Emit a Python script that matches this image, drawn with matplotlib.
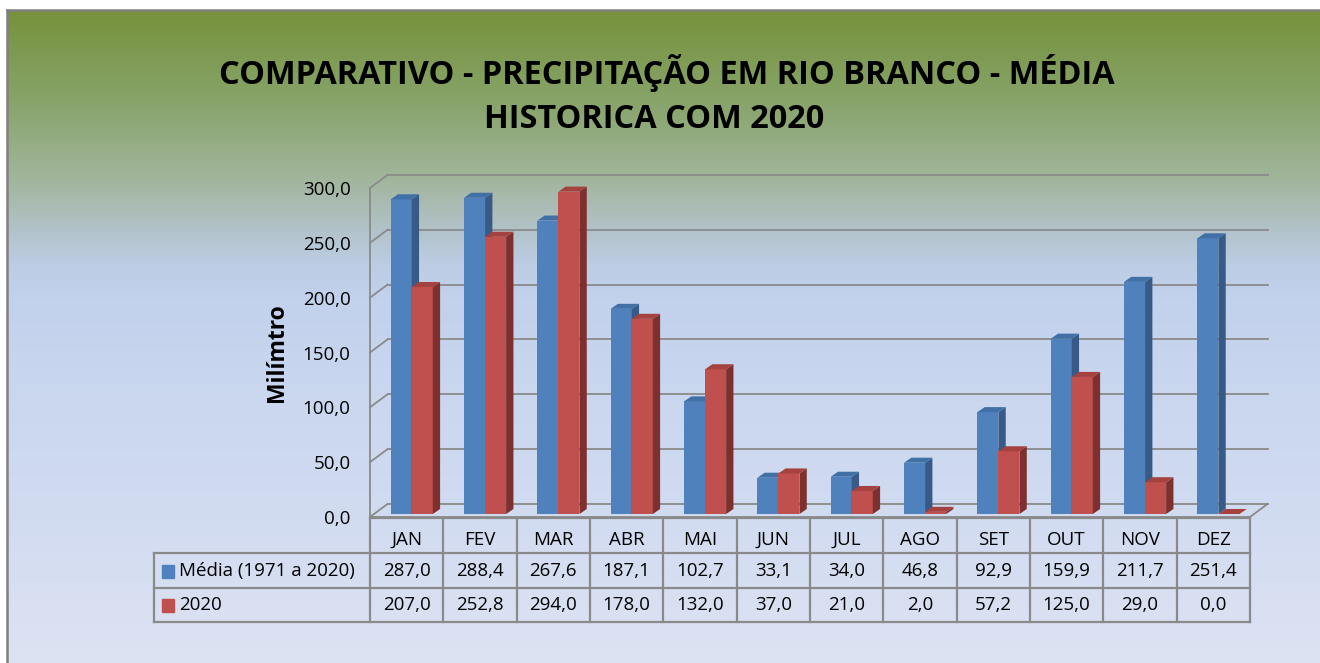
import numpy as np
import matplotlib
matplotlib.use("Agg")
import matplotlib.pyplot as plt
from matplotlib.transforms import blended_transform_factory
from matplotlib.colors import LinearSegmentedColormap

months = ["JAN", "FEV", "MAR", "ABR", "MAI", "JUN", "JUL", "AGO", "SET", "OUT", "NOV", "DEZ"]
media = [287.0, 288.4, 267.6, 187.1, 102.7, 33.1, 34.0, 46.8, 92.9, 159.9, 211.7, 251.4]
ano2020 = [207.0, 252.8, 294.0, 178.0, 132.0, 37.0, 21.0, 2.0, 57.2, 125.0, 29.0, 0.0]
series_names = ["Média (1971 a 2020)", "2020"]
yticks = [0, 50, 100, 150, 200, 250, 300]

W, H = 1320, 663
BLUE = ("#4f81bd", "#375a86", "#4170a6")
RED = ("#c0504d", "#7d302e", "#a5413e")
GRID = "#8a8a8a"
FONT = "Open Sans"
FS = 13.5

# 3d geometry in data units
WALL_DX, WALL_DY = 0.239, 11.9
BAR_DX, BAR_DY = 0.10, 4.6
BAR_BASE = 2.7
BAR_W = 0.287
BAR_X0 = 0.282


def fx(px):
    return px / W


def fy(py):
    return 1 - py / H


def fmt(v):
    return f"{v:.1f}".replace(".", ",")


def draw_bar(ax, x0, v, colors):
    front, side, top = colors
    b = BAR_BASE
    y1 = b + v
    x1 = x0 + BAR_W
    kw = dict(lw=0, clip_on=False, zorder=3)
    ax.fill([x0, x1, x1, x0], [b, b, y1, y1], color=front, **kw)
    ax.fill([x1, x1 + BAR_DX, x1 + BAR_DX, x1], [b, b + BAR_DY, y1 + BAR_DY, y1], color=side, **kw)
    ax.fill([x0, x1, x1 + BAR_DX, x0 + BAR_DX], [y1, y1, y1 + BAR_DY, y1 + BAR_DY], color=top, **kw)


fig = plt.figure(figsize=(W / 100, H / 100), dpi=100)
fig.patch.set_facecolor("white")

# background gradient
bg = fig.add_axes([fx(7), 0, 1 - fx(7), fy(10)])
stops = [(0.0, "#76923c"), (0.14, "#88a46a"), (0.25, "#a0b498"), (0.34, "#b3c3cb"),
         (0.39, "#bccde4"), (0.44, "#c2d1ec"), (0.6, "#cad7ef"), (0.83, "#d4ddf1"), (1.0, "#dce3f3")]
cmap = LinearSegmentedColormap.from_list("bg", stops)
bg.imshow(np.linspace(0, 1, 256)[:, None], aspect="auto", cmap=cmap, extent=[0, 1, 0, 1])
bg.set_xlim(0, 1)
bg.set_ylim(0, 1)
for side in ["right", "bottom"]:
    bg.spines[side].set_visible(False)
for side in ["left", "top"]:
    bg.spines[side].set_color("#808080")
    bg.spines[side].set_linewidth(1.8)
bg.set_xticks([])
bg.set_yticks([])

# main axes: x 0..12 categories, y 0..300 mm
ax = fig.add_axes([fx(370), fy(517), fx(880), (517 - 188) / H])
ax.set_xlim(0, 12)
ax.set_ylim(0, 300)
ax.patch.set_alpha(0)
for s in ax.spines.values():
    s.set_visible(False)
ax.set_xticks([])
ax.set_yticks(yticks)
ax.set_yticklabels([fmt(t) for t in yticks], fontsize=FS, family=FONT)
ax.tick_params(axis="y", length=0, pad=14)

n = len(months)
lkw = dict(color=GRID, lw=1.3, clip_on=False, zorder=1)
for t in yticks:
    ax.plot([WALL_DX, n + WALL_DX], [t + WALL_DY, t + WALL_DY], **lkw)
    ax.plot([0, WALL_DX], [t, t + WALL_DY], **lkw)
ax.plot([0, 0], [0, yticks[-1]], **lkw)
ax.plot([0, n], [0, 0], **lkw)
ax.plot([n, n + WALL_DX], [0, WALL_DY], **lkw)

for i in range(n):
    draw_bar(ax, i + BAR_X0, media[i], BLUE)
    draw_bar(ax, i + BAR_X0 + BAR_W, ano2020[i], RED)

# data table
tr = blended_transform_factory(ax.transData, fig.transFigure)
left = (154 - 370) / (880 / n)
rows_y = [518, 553, 588, 622]
tkw = dict(color=GRID, lw=1.6, transform=tr, clip_on=False)
ax.plot([0, n], [fy(rows_y[0])] * 2, **tkw)
for ry in rows_y[1:]:
    ax.plot([left, n], [fy(ry)] * 2, **tkw)
for i in range(n + 1):
    ax.plot([i, i], [fy(rows_y[0]), fy(rows_y[-1])], **tkw)
ax.plot([left, left], [fy(rows_y[1]), fy(rows_y[-1])], **tkw)

txt = dict(transform=tr, fontsize=FS, family=FONT, va="center", clip_on=False)
for i, m in enumerate(months):
    ax.text(i + 0.5, fy(540), m, ha="center", **txt)
    ax.text(i + 0.5, fy(571), fmt(media[i]), ha="center", **txt)
    ax.text(i + 0.5, fy(605), fmt(ano2020[i]), ha="center", **txt)

for ry, name, col in zip([571, 605], series_names, [BLUE[0], RED[0]]):
    fig.patches.append(plt.Rectangle((fx(162), fy(ry + 7)), 12 / W, 13 / H,
                                     transform=fig.transFigure, color=col, figure=fig))
    fig.text(fx(179), fy(ry), name, fontsize=FS, family=FONT, va="center", ha="left")

fig.text(fx(667), fy(73), "COMPARATIVO - PRECIPITAÇÃO EM RIO BRANCO - MÉDIA",
         fontsize=23.4, family=FONT, weight="bold", ha="center", va="center")
fig.text(fx(654), fy(120), "HISTORICA COM 2020",
         fontsize=23.4, family=FONT, weight="bold", ha="center", va="center")
fig.text(fx(277), fy(353), "Milímtro", fontsize=16.5, family=FONT, weight="bold",
         rotation=90, ha="center", va="center")

fig.savefig("out.png", dpi=100)
